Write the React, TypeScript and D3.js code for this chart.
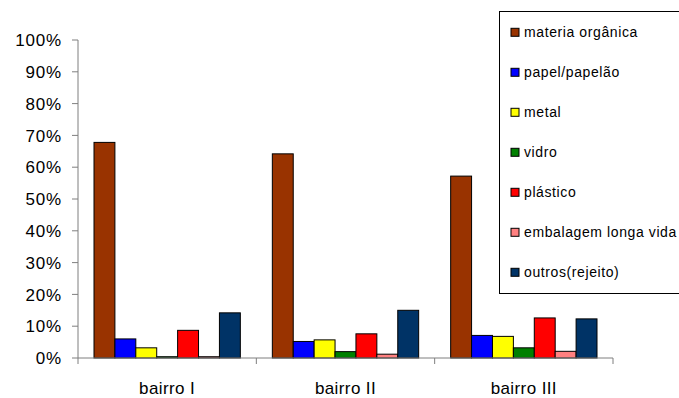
import React from "react";
import * as d3 from "d3";

// Composição dos resíduos por bairro (fração do total)
const categories = ["bairro I", "bairro II", "bairro III"];
const seriesNames = [
  "materia orgânica",
  "papel/papelão",
  "metal",
  "vidro",
  "plástico",
  "embalagem longa vida",
  "outros(rejeito)",
];
const seriesColors = ["#993300", "#0000FF", "#FFFF00", "#008000", "#FF0000", "#FF8080", "#003366"];
const materiaOrganica = [0.678, 0.642, 0.572];
const papel = [0.06, 0.052, 0.071];
const metal = [0.032, 0.057, 0.068];
const vidro = [0.004, 0.02, 0.032];
const plastico = [0.087, 0.076, 0.126];
const longaVida = [0.004, 0.012, 0.021];
const outros = [0.142, 0.15, 0.123];
const yTicks = [0, 0.1, 0.2, 0.3, 0.4, 0.5, 0.6, 0.7, 0.8, 0.9, 1.0];

const seriesValues = [materiaOrganica, papel, metal, vidro, plastico, longaVida, outros];

const W = 679;
const H = 398;
const plot = { left: 78, right: 613, top: 40, bottom: 358 };
const font = "'Liberation Sans', Arial, sans-serif";

export default function App() {
  const x0 = d3.scaleBand<string>().domain(categories).range([plot.left, plot.right]).padding(0);
  const bw = x0.bandwidth();
  const x1 = d3
    .scaleBand<string>()
    .domain(seriesNames)
    .range([16, bw - 16])
    .padding(0);
  const y = d3.scaleLinear().domain([0, 1]).range([plot.bottom, plot.top]);
  const fmt = d3.format(".0%");
  const axisColor = "#7f7f7f";

  const boundaries = [...categories.map((c) => x0(c) as number), plot.right];

  return (
    <svg
      width={W}
      height={H}
      style={{ position: "absolute", left: 0, top: 0, background: "#fff" }}
      fontFamily={font}
    >
      {/* barras */}
      {categories.map((cat, ci) =>
        seriesNames.map((s, si) => {
          const v = seriesValues[si][ci];
          const x = (x0(cat) as number) + (x1(s) as number);
          return (
            <rect
              key={cat + s}
              x={x}
              y={y(v)}
              width={x1.bandwidth()}
              height={plot.bottom - y(v)}
              fill={seriesColors[si]}
              stroke="#000"
              strokeWidth={1}
            />
          );
        })
      )}

      {/* eixo y */}
      <line x1={plot.left} x2={plot.left} y1={plot.top} y2={plot.bottom} stroke={axisColor} />
      {yTicks.map((t) => (
        <g key={t}>
          <line x1={plot.left - 6} x2={plot.left} y1={y(t)} y2={y(t)} stroke={axisColor} />
          <text
            x={62}
            y={y(t)}
            dy="0.36em"
            textAnchor="end"
            fontSize={17}
            letterSpacing={0.8}
            fill="#000"
          >
            {fmt(t)}
          </text>
        </g>
      ))}

      {/* eixo x */}
      <line x1={plot.left} x2={plot.right} y1={plot.bottom} y2={plot.bottom} stroke={axisColor} />
      {boundaries.map((bx, i) => (
        <line key={i} x1={bx} x2={bx} y1={plot.bottom} y2={plot.bottom + 6} stroke={axisColor} />
      ))}
      {categories.map((cat) => (
        <text
          key={cat}
          x={(x0(cat) as number) + bw / 2}
          y={394}
          textAnchor="middle"
          fontSize={17}
          letterSpacing={0.4}
          fill="#000"
        >
          {cat}
        </text>
      ))}

      {/* legenda */}
      <rect x={499.5} y={11.5} width={200} height={282} fill="#fff" stroke="#000" strokeWidth={1} />
      {seriesNames.map((s, i) => {
        const cy = 32.3 + i * 40;
        return (
          <g key={s}>
            <rect x={511} y={cy - 4} width={8} height={8} fill={seriesColors[i]} stroke="#000" strokeWidth={1} />
            <text x={524} y={cy} dy="0.36em" fontSize={14} letterSpacing={0.6} fill="#000">
              {s}
            </text>
          </g>
        );
      })}
    </svg>
  );
}
